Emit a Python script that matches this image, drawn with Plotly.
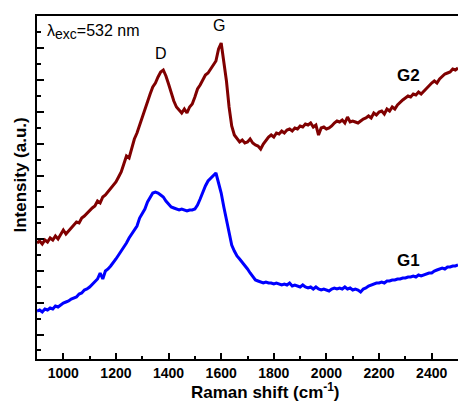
import plotly.graph_objects as go

# Raman shift (cm^-1), 900..2500 every 10
shift = list(range(900, 2501, 10))

# G2 spectrum (a.u.)
g2 = [116, 118, 115, 119, 117, 121, 119, 123, 120, 124,
      129, 125, 128, 131, 133, 137, 136, 141, 143, 146,
      149, 151, 153, 158, 156, 162, 164, 167, 170, 173,
      177, 182, 187, 195, 203, 201, 212, 220, 226, 234,
      243, 250, 259, 265, 272, 276, 282, 287, 289, 283,
      275, 266, 258, 252, 249, 246, 250, 246, 252, 255,
      262, 270, 274, 279, 284, 286, 290, 293, 298, 310,
      316, 297, 278, 252, 233, 224, 220, 217, 219, 216,
      217, 220, 216, 214, 213, 210, 215, 219, 222, 224,
      222, 226, 225, 228, 226, 229, 230, 228, 231, 230,
      233, 232, 235, 234, 236, 232, 234, 224, 231, 232,
      230, 231, 233, 236, 238, 237, 239, 236, 242, 237,
      238, 237, 236, 238, 240, 241, 243, 241, 246, 244,
      247, 248, 245, 250, 248, 252, 250, 254, 257, 259,
      261, 263, 262, 265, 264, 267, 265, 268, 271, 273,
      276, 278, 276, 280, 283, 285, 286, 287, 290, 289,
      291]

# G1 spectrum (a.u.)
g1 = [48, 49, 47, 50, 49, 51, 50, 53, 52, 54,
      56, 57, 58, 60, 61, 62, 65, 66, 69, 70,
      72, 75, 77, 80, 86, 80, 88, 90, 93, 96,
      100, 104, 108, 111, 116, 121, 125, 129, 133, 141,
      146, 150, 157, 162, 166, 167, 166, 164, 162, 158,
      155, 152, 151, 150, 149, 150, 149, 148, 149, 149,
      150, 154, 160, 167, 173, 178, 181, 183, 186, 176,
      166, 152, 138, 124, 114, 108, 103, 100, 97, 93,
      90, 86, 82, 79, 78, 77, 76, 77, 76, 76,
      75, 76, 75, 74, 75, 74, 76, 73, 74, 73,
      72, 74, 72, 71, 72, 70, 72, 70, 69, 70,
      69, 68, 70, 71, 70, 71, 70, 72, 70, 71,
      69, 70, 69, 67, 70, 71, 73, 74, 75, 76,
      76, 77, 76, 78, 78, 79, 79, 80, 80, 81,
      81, 82, 82, 83, 82, 84, 83, 84, 85, 86,
      86, 88, 89, 90, 91, 90, 92, 92, 93, 93,
      94]

x_ticks = [1000, 1200, 1400, 1600, 1800, 2000, 2200, 2400]

FONT = "Liberation Sans, Arial, sans-serif"

fig = go.Figure()
fig.add_trace(go.Scatter(x=shift, y=g2, mode="lines",
                         line=dict(color="#800000", width=3), showlegend=False))
fig.add_trace(go.Scatter(x=shift, y=g1, mode="lines",
                         line=dict(color="#0000ff", width=3), showlegend=False))

fig.update_layout(
    width=458, height=401,
    margin=dict(l=37, r=0, t=16, b=42),
    paper_bgcolor="white", plot_bgcolor="white",
    font=dict(family=FONT, color="black"),
    xaxis=dict(range=[900, 2500], tickvals=x_ticks,
               ticktext=[f"<b>{v}</b>" for v in x_ticks],
               ticks="inside", ticklen=6, tickwidth=2, tickcolor="black",
               minor=dict(dtick=100, tick0=900, ticks="inside", ticklen=3,
                          tickwidth=2, tickcolor="black"),
               showline=True, linewidth=2, linecolor="black", mirror=True,
               showgrid=False, zeroline=False,
               tickfont=dict(size=14, family=FONT, color="black")),
    yaxis=dict(range=[0, 343], tick0=24.5, dtick=31.8,
               ticks="inside", ticklen=7, tickwidth=2, tickcolor="black",
               minor=dict(dtick=15.9, tick0=8.6, ticks="inside", ticklen=4,
                          tickwidth=2, tickcolor="black"),
               showticklabels=False,
               showline=True, linewidth=2, linecolor="black", mirror=False,
               showgrid=False, zeroline=False),
)

ann = [
    dict(x=930, y=327, xref="x", yref="y",
         text="λ<sub><span style='font-size:14px'>exc</span></sub>=532 nm",
         xanchor="left", yanchor="middle", font=dict(size=16)),
    dict(x=1371, y=306, xref="x", yref="y", text="D",
         xanchor="center", yanchor="middle", font=dict(size=16)),
    dict(x=1592, y=334, xref="x", yref="y", text="G",
         xanchor="center", yanchor="middle", font=dict(size=16)),
    dict(x=2310, y=284, xref="x", yref="y", text="<b>G2</b>",
         xanchor="center", yanchor="middle", font=dict(size=17)),
    dict(x=2310, y=99, xref="x", yref="y", text="<b>G1</b>",
         xanchor="center", yanchor="middle", font=dict(size=17)),
    dict(x=(19.5 - 37) / 421, y=184, xref="paper", yref="y",
         text="<b>Intensity (a.u.)</b>", textangle=-90,
         xanchor="center", yanchor="middle", font=dict(size=17)),
    dict(x=(265.5 - 37) / 421, y=-32 / 343, xref="paper", yref="paper",
         text="<b>Raman shift (cm<sup>-1</sup>)</b>",
         xanchor="center", yanchor="middle", font=dict(size=17)),
]
for a in ann:
    a["showarrow"] = False
    fig.add_annotation(**a)

fig.write_html("out.html")
